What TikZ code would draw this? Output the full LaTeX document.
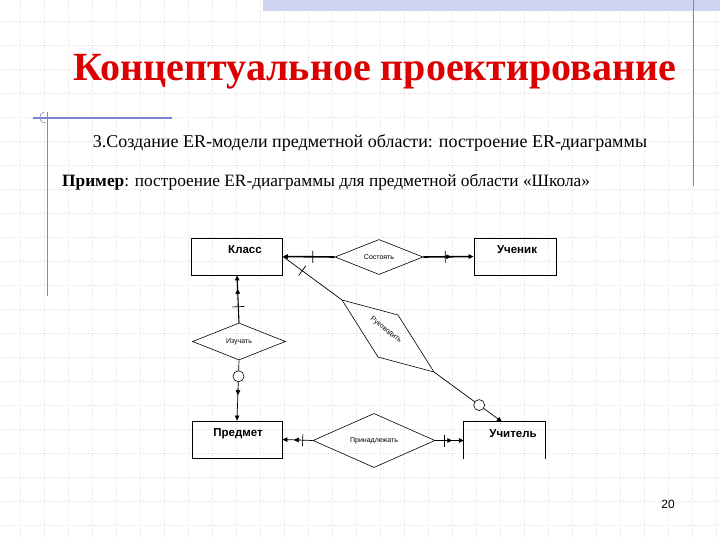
\documentclass[tikz,border=0pt]{standalone}
\usepackage{fontspec}
\setmainfont{Liberation Serif}
\setsansfont{Liberation Sans}
\usetikzlibrary{arrows.meta,shapes.geometric,calc}
\definecolor{titlered}{RGB}{220,0,0}
\definecolor{deco}{RGB}{120,135,205}
\definecolor{strip}{RGB}{205,212,242}
\definecolor{gridc}{RGB}{225,225,225}
\tikzset{mytip/.tip={Triangle[length=5pt,width=4.5pt]}}
% mid-connector marks: from, to, distance from "from"
\newcommand\ertick[3]{%
  \coordinate (tk) at ($(#1)!#3!(#2)$);
  \draw[line width=0.7pt] ($(tk)!6pt!90:(#2)$) -- ($(tk)!6pt!-90:(#2)$);}
\newcommand\erarrow[4]{% from, to, tail distance, tip distance
  \draw[line width=0.7pt,-{mytip}] ($(#1)!#3!(#2)$) -- ($(#1)!#4!(#2)$);}
\newcommand\ercircle[3]{%
  \draw[line width=0.6pt,fill=white] ($(#1)!#3!(#2)$) circle (5.5);}
\begin{document}
\begin{tikzpicture}[x=1pt,y=-1pt,
  ent/.style={draw, line width=0.8pt, inner sep=0pt},
  enttext/.style={font=\sffamily\bfseries\fontsize{11.5}{12}\selectfont, inner sep=0pt},
  rel/.style={draw, diamond, line width=0.6pt, inner sep=0pt, font=\sffamily\fontsize{7}{8}\selectfont},
  conn/.style={line width=0.7pt},
  thickconn/.style={line width=1.6pt},
]
\useasboundingbox (0,0) rectangle (720,540);
\fill[white] (0,0) rectangle (720,540);
% faint grid
\foreach \gx in {20,44,...,716} \draw[gridc, dotted, line width=0.5pt] (\gx,0) -- (\gx,540);
\foreach \gy in {21,45,...,537} \draw[gridc, dotted, line width=0.5pt] (0,\gy) -- (720,\gy);
% decorations
\fill[strip] (263,0) rectangle (720,11);
\draw[deco, line width=0.8pt] (693,0) -- (693,186);
\draw[deco, line width=1.2pt] (33,118) -- (172,118);
\draw[deco, line width=0.9pt] (47,112) -- (47,296);
\draw[deco, line width=0.6pt] (44,112) .. controls (38,114) and (38,123) .. (46,123);

% texts
\node[font=\bfseries\fontsize{40}{44}\selectfont, text=titlered] (title) at (375,72) {Концептуальное проектирование};
\node[font=\fontsize{18}{20}\selectfont] (sub) at (370,143) {3.Создание ER-модели предметной области: построение ER-диаграммы};
\node[font=\fontsize{17.3}{19}\selectfont, anchor=west, inner sep=0pt] (ex) at (62,182) {\textbf{Пример}: построение ER-диаграммы для предметной области «Школа»};
\node[font=\sffamily\fontsize{12}{14}\selectfont] (pnum) at (668,504) {20};

% entities
\node[ent, minimum width=91pt, minimum height=37pt] (klass) at (237,256.5) {};
\node[enttext] (klasst) at (245,250) {Класс};
\node[ent, minimum width=82pt, minimum height=37pt] (uchenik) at (515,256.5) {};
\node[enttext] (uchenikt) at (517,250) {Ученик};
\node[ent, minimum width=90pt, minimum height=37pt] (predmet) at (237,439.5) {};
\node[enttext] (predmett) at (238,434) {Предмет};
\node[inner sep=0pt, minimum width=81pt, minimum height=37pt] (uchitel) at (504.5,440.5) {};
\draw[line width=0.8pt] (uchitel.south west) -- (uchitel.north west) -- (uchitel.north east) -- (uchitel.south east);
\node[enttext] (uchitelt) at (513,434) {Учитель};

% relationships
\node[rel, minimum width=88pt, minimum height=34pt] (sost) at (379,257) {Состоять};
\node[rel, minimum width=93pt, minimum height=37pt] (izuch) at (239,341.5) {Изучать};
\node[rel, minimum width=122pt, minimum height=35pt] (prin) at (374,440.5) {Принадлежать};
\coordinate (rA) at (342,300);
\coordinate (rB) at (398,315);
\coordinate (rC) at (434,372);
\coordinate (rD) at (378,357);
\draw[line width=0.6pt] (rA) -- (rB) -- (rC) -- (rD) -- cycle;
\node[font=\sffamily\fontsize{7}{8}\selectfont, rotate=-38, inner sep=0pt] (ruk) at (386,330) {Руководить};
\coordinate (uchtop) at ($(uchitel.north)+(-2.5,0)$);

% connectors
\draw[thickconn, -{mytip}] (sost.west) -- (klass.east);
\ertick{sost.west}{klass.east}{22pt}
\draw[thickconn, -{mytip}] (sost.east) -- (uchenik.west);
\ertick{sost.east}{uchenik.west}{22pt}
\erarrow{sost.east}{uchenik.west}{23pt}{28pt}
\draw[conn, line width=1.1pt, -{mytip}] (izuch.north) -- (klass.south);
\ertick{izuch.north}{klass.south}{16pt}
\erarrow{izuch.north}{klass.south}{28pt}{34pt}
\draw[conn, -{mytip}] (izuch.south) -- (predmet.north);
\ercircle{izuch.south}{predmet.north}{16pt}
\erarrow{izuch.south}{predmet.north}{28pt}{35pt}
\draw[conn, -{mytip}] (prin.west) -- (predmet.east);
\ertick{prin.west}{predmet.east}{10pt}
\erarrow{prin.west}{predmet.east}{12pt}{19pt}
\draw[conn, -{mytip}] (prin.east) -- (uchitel.west);
\ertick{prin.east}{uchitel.west}{9pt}
\erarrow{prin.east}{uchitel.west}{11pt}{17pt}
\draw[conn] (klass.east) -- (rA);
\ertick{klass.east}{rA}{24pt}
\draw[conn, -{mytip}] (rC) -- (uchtop);
\ercircle{rC}{uchtop}{56pt}
\end{tikzpicture}
\end{document}
